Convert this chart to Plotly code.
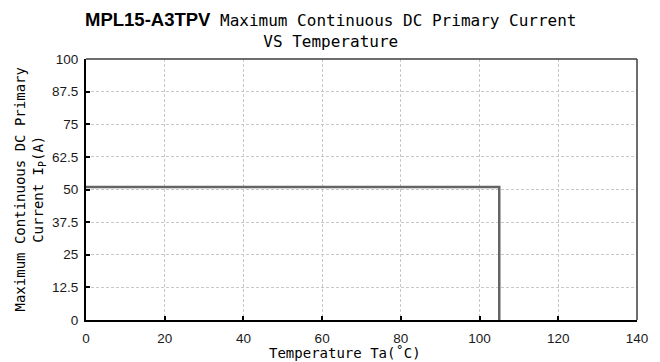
import plotly.graph_objects as go

# Data
temperature = [0, 105, 105]
current = [51, 51, 0]
x_ticks = [0, 20, 40, 60, 80, 100, 120, 140]
y_ticks = [0, 12.5, 25, 37.5, 50, 62.5, 75, 87.5, 100]

W, H = 660, 362
L, R, T, B = 86, 23, 59, 42
pw = W - L - R
ph = H - T - B

mono = "DejaVu Sans Mono"
sans = "Liberation Sans"

fig = go.Figure()
fig.add_trace(go.Scatter(
    x=temperature, y=current, mode="lines",
    line=dict(color="#646464", width=2.5), hoverinfo="skip", showlegend=False,
))

axis_common = dict(
    showgrid=True, gridcolor="#c8c8c8", griddash="3px,2px", gridwidth=1,
    zeroline=False, showline=True, linecolor="black", linewidth=2,
    ticks="inside", ticklen=4, tickwidth=2, tickcolor="black",
    tickfont=dict(family=sans, size=13.5, color="#1a1a1a"),
)

fig.update_layout(
    width=W, height=H,
    margin=dict(l=L, r=R, t=T, b=B, autoexpand=False),
    paper_bgcolor="white", plot_bgcolor="white",
    xaxis=dict(range=[0, 140], tickvals=x_ticks, ticktext=[str(v) for v in x_ticks],
               ticklabelstandoff=5, **axis_common),
    yaxis=dict(range=[0, 100], tickvals=y_ticks, ticktext=[f"{v:g}" for v in y_ticks],
               ticklabelstandoff=3, **axis_common),
    showlegend=False,
)

# top and right frame
fig.add_shape(type="line", xref="x domain", yref="y domain", x0=0, x1=1, y0=1, y1=1,
              line=dict(color="#3c3c3c", width=1.5))
fig.add_shape(type="line", xref="x domain", yref="y domain", x0=1, x1=1, y0=0, y1=1,
              line=dict(color="#3c3c3c", width=1.5))

# chart title
fig.add_annotation(
    text="<span style='font-family:Liberation Sans;font-weight:bold;font-size:18.5px'>MPL15-A3TPV</span> Maximum Continuous DC Primary Current<br>VS Temperature",
    xref="paper", yref="paper", x=(330 - L) / pw, y=1 + (T - 7) / ph,
    xanchor="center", yanchor="top", showarrow=False,
    font=dict(family=mono, size=16, color="black"),
)

# axis titles
fig.add_annotation(
    text="Maximum Continuous DC Primary<br>Current I<sub>P</sub>(A)",
    xref="paper", yref="paper", x=(29 - L) / pw, y=0.5,
    xanchor="center", yanchor="middle", textangle=-90, showarrow=False,
    font=dict(family=mono, size=14, color="black"),
)
fig.add_annotation(
    text="Temperature Ta(˚C)",
    xref="paper", yref="paper", x=(345 - L) / pw, y=-(353 - (H - B)) / ph,
    xanchor="center", yanchor="middle", showarrow=False,
    font=dict(family=mono, size=14, color="black"),
)

fig.write_html("out.html")
